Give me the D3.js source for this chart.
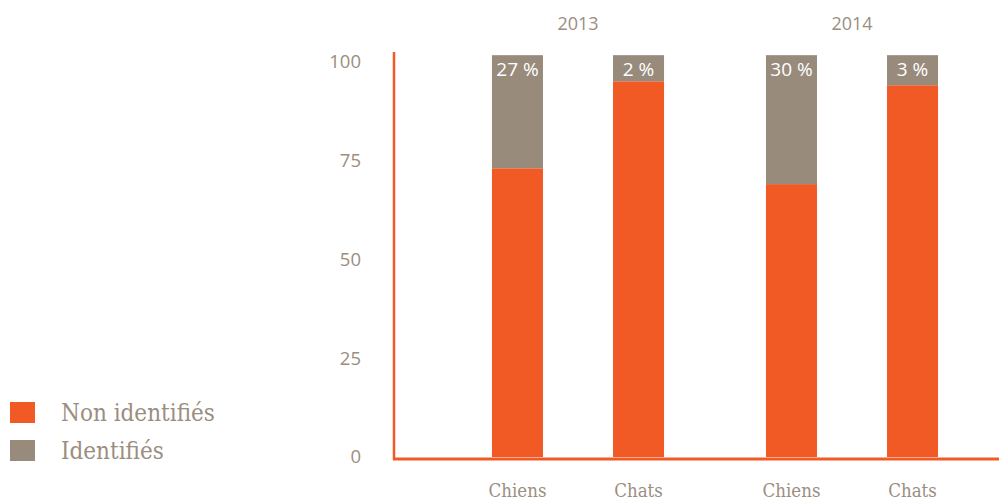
<!DOCTYPE html>
<html>
<head>
<meta charset="utf-8">
<script src="https://cdn.jsdelivr.net/npm/d3@7/dist/d3.min.js"></script>
<style>
  body { margin: 0; background: #fff; }
  svg { display: block; }
</style>
</head>
<body>
<script>
var width = 999,
    height = 502;

// data
var years = ["2013", "2014"];
var animals = ["Chiens", "Chats"];
var nonIdentified = [73, 95, 69, 94];       // orange part, per year then animal
var identified = [28.6, 6.6, 32.6, 7.6];     // grey part on top
var identifiedLabels = ["27 %", "2 %", "30 %", "3 %"];
var yTicks = [0, 25, 50, 75, 100];
var legendLabels = ["Non identifiés", "Identifiés"];

var orange = "#f15a24",
    grey = "#998b7c",
    textColor = "#9b8e80";

var rows = [];
years.forEach(function(yr, i) {
	animals.forEach(function(a, j) {
		var k = i * animals.length + j;
		rows.push({year: yr, animal: a, non: nonIdentified[k], id: identified[k], label: identifiedLabels[k]});
	});
});

var x0 = d3.scaleBand()
	.domain(years)
	.range([441, 989]);

var x1 = d3.scaleBand()
	.domain(animals)
	.range([0, x0.bandwidth()])
	.paddingInner(0.5785)
	.paddingOuter(0.421);

var yScale = d3.scaleLinear()
	.domain([0, 100])
	.range([457, 61.5]);

var svg = d3.select("body")
	.append("svg")
	.attr("width", width)
	.attr("height", height);

//bars
var groups = svg.selectAll("g.bar")
	.data(rows)
	.enter()
	.append("g")
	.attr("class", "bar")
	.attr("transform", function(d) {
		return "translate(" + (x0(d.year) + x1(d.animal)) + ",0)";
	});

groups.append("rect")
	.attr("y", function(d) { return yScale(d.non); })
	.attr("width", x1.bandwidth())
	.attr("height", function(d) { return yScale(0) - yScale(d.non); })
	.attr("fill", orange);

groups.append("rect")
	.attr("y", function(d) { return yScale(d.non + d.id); })
	.attr("width", x1.bandwidth())
	.attr("height", function(d) { return yScale(d.non) - yScale(d.non + d.id); })
	.attr("fill", grey);

groups.append("text")
	.attr("x", x1.bandwidth() / 2)
	.attr("y", function(d) { return yScale(d.non + d.id) + 21; })
	.attr("text-anchor", "middle")
	.attr("fill", "#fff")
	.style("font-family", "'Open Sans', sans-serif")
	.style("font-size", "19px")
	.text(function(d) { return d.label; });

//category labels
groups.append("text")
	.attr("x", x1.bandwidth() / 2)
	.attr("y", 497)
	.attr("text-anchor", "middle")
	.attr("fill", textColor)
	.style("font-family", "'DejaVu Serif', serif")
	.style("font-size", "18.5px")
	.style("font-stretch", "condensed")
	.text(function(d) { return d.animal; });

//year labels
svg.selectAll("text.year")
	.data(years)
	.enter()
	.append("text")
	.attr("class", "year")
	.attr("x", function(d) { return x0(d) + x0.bandwidth() / 2; })
	.attr("y", 30)
	.attr("text-anchor", "middle")
	.attr("fill", textColor)
	.style("font-family", "'Open Sans', sans-serif")
	.style("font-size", "18px")
	.text(function(d) { return d; });

//y axis
var yAxis = d3.axisLeft(yScale)
	.tickValues(yTicks)
	.tickSize(0)
	.tickPadding(33);

var gy = svg.append("g")
	.attr("transform", "translate(394,0)")
	.call(yAxis);
gy.select(".domain").remove();
gy.selectAll("text")
	.attr("fill", textColor)
	.style("font-family", "'Open Sans', sans-serif")
	.style("font-size", "18.5px");

// axis lines
svg.append("line")
	.attr("x1", 394).attr("x2", 394)
	.attr("y1", 52).attr("y2", 460)
	.attr("stroke", orange)
	.attr("stroke-width", 2.5);

svg.append("line")
	.attr("x1", 393).attr("x2", width)
	.attr("y1", 459).attr("y2", 459)
	.attr("stroke", orange)
	.attr("stroke-width", 3);

//legend
var legend = svg.selectAll("g.legend")
	.data(legendLabels)
	.enter()
	.append("g")
	.attr("class", "legend")
	.attr("transform", function(d, i) { return "translate(10," + (402 + i * 38) + ")"; });

legend.append("rect")
	.attr("width", 25)
	.attr("height", 21)
	.attr("fill", function(d, i) { return i === 0 ? orange : grey; });

legend.append("text")
	.attr("x", 51)
	.attr("y", 19)
	.attr("fill", textColor)
	.style("font-family", "'DejaVu Serif', serif")
	.style("font-size", "24px")
	.style("font-stretch", "condensed")
	.text(function(d) { return d; });
</script>
</body>
</html>
